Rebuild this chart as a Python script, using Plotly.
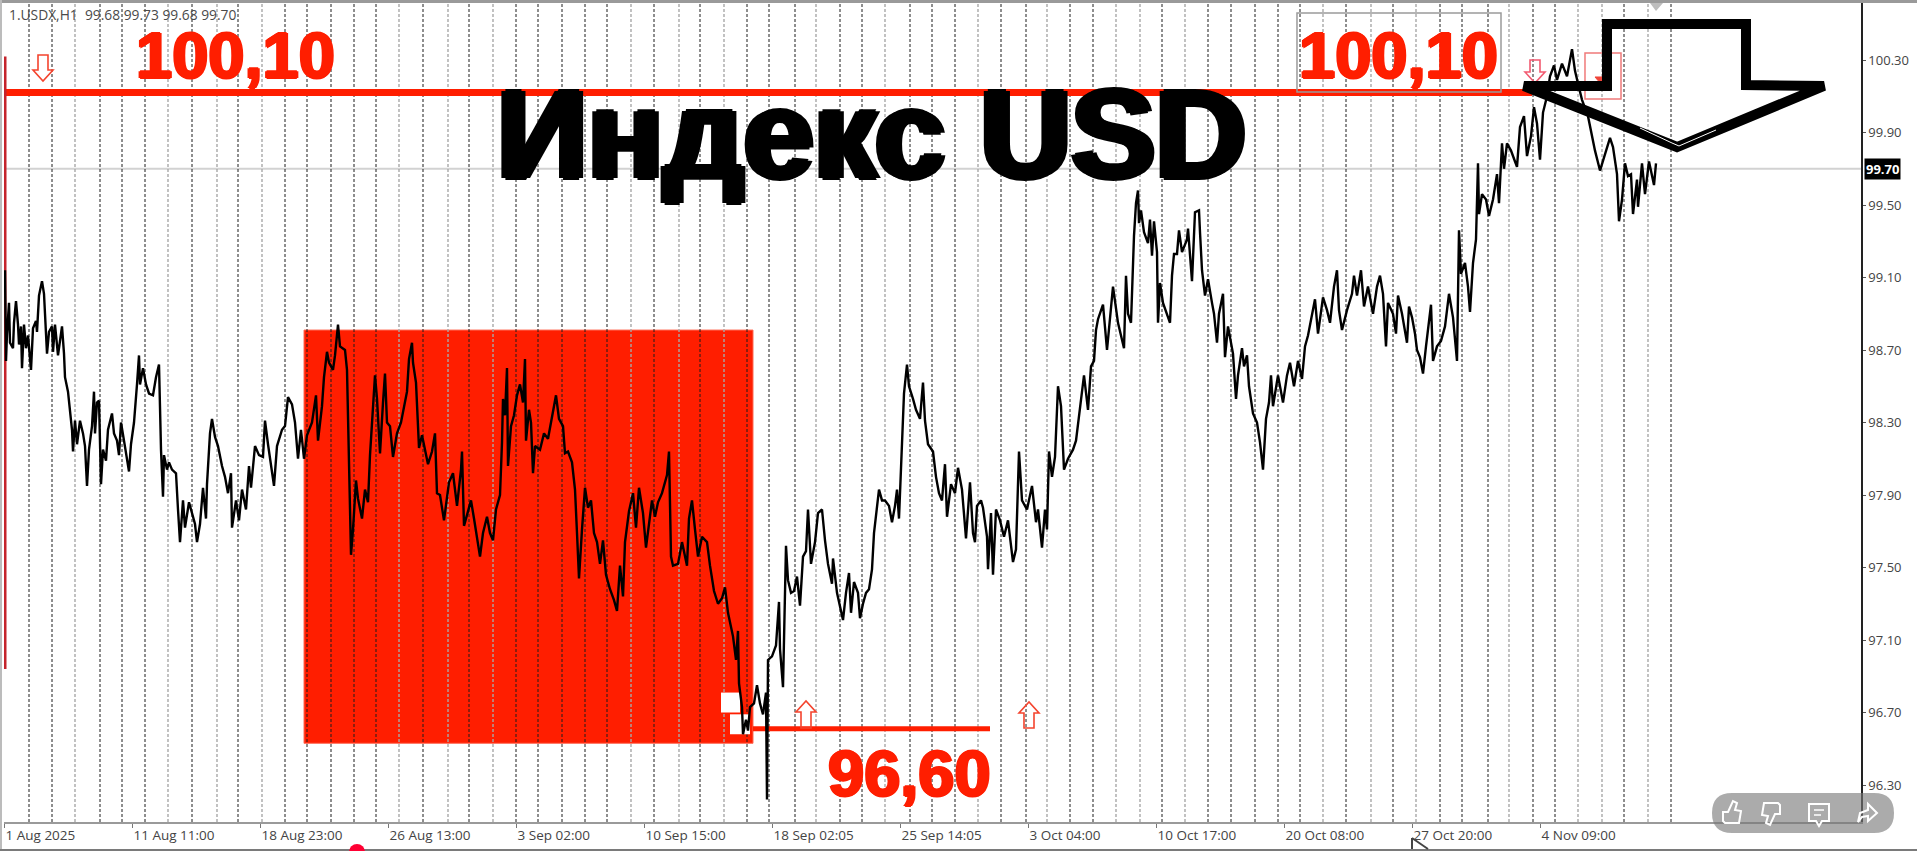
import plotly.graph_objects as go

# ---- chart data (bar number since 1 Aug 2025, H1 bars) ----
bars_aug_a = [1,2,3,5,6,9,10,12,14,15,17,18,20,22,24,27,29,32,33,35,38,40,41,43,45,48,49,51,54,58,60,61,64,66,68,69,71,73,76,79,81,83,85,88,90,91,93,95,97,99,102,104,108,110,113,115,117,120,123,125,127,130,133,135,136,139,142,145,149,152,155,156,157,159,160,163,165,168,172,174,176,179,181,185,189,191,193,196,199,202,203,206,208,211,214,218,221,224,227,228,232,235,238,242,245,247,251,255,259,261,264,266,268,270,273,278,281,284]
close_aug_a = [99.14,98.64,98.79,98.96,98.74,98.71,98.85,98.97,98.84,98.73,98.83,98.60,98.84,98.71,98.78,98.59,98.82,98.86,98.80,99.00,99.08,99.01,98.90,98.68,98.80,98.83,98.69,98.84,98.67,98.83,98.68,98.55,98.47,98.36,98.26,98.14,98.31,98.18,98.31,98.24,98.17,97.95,98.15,98.28,98.47,98.24,98.41,98.42,97.96,98.15,98.09,98.26,98.35,98.24,98.20,98.12,98.30,98.20,98.11,98.03,98.18,98.30,98.51,98.67,98.51,98.60,98.51,98.46,98.45,98.55,98.62,98.35,98.15,97.89,98.12,98.04,98.08,98.04,98.02,97.82,97.64,97.87,97.72,97.86,97.78,97.74,97.64,97.74,97.94,97.77,97.96,98.24,98.32,98.22,98.17,98.06,98.00,97.91,98.02,97.72,97.87,97.76,97.93,97.82,98.06,97.94,98.17,98.12,98.11,98.31,98.18,98.11,98.04,97.95,98.17,98.26,98.28,98.44]

bars_aug_b = [288,291,294,297,300,303,308,312,314,318,320,323,325,329,331,334,336,341,343,345,346,347,349,352,354,358,361,364,366,369,371,373,376,379,381,383,386,389,393,397,401,403,405,408,409,412,414,415,418,421,424,428,431,433,436,440,443,445,449,453,457,458,460,463,467,470,473,476,479,483,486,489,492,496,498,499,501,503,504,507,510,513,516,519,521,522,525,527,529,531,536,540,544,548,552,555,559,561,564,568,571,573,575]
close_aug_b = [98.40,98.30,98.10,98.26,98.10,98.23,98.30,98.45,98.20,98.39,98.55,98.69,98.63,98.59,98.67,98.84,98.72,98.70,98.59,98.13,97.77,97.57,97.71,97.98,97.88,97.77,97.93,97.86,98.12,98.37,98.56,98.43,98.13,98.41,98.57,98.30,98.28,98.11,98.24,98.30,98.41,98.47,98.65,98.74,98.63,98.52,98.28,98.16,98.23,98.15,98.07,98.14,98.24,97.91,97.90,97.76,97.87,97.97,98.02,97.84,98.04,98.14,97.73,97.79,97.87,97.77,97.67,97.56,97.69,97.78,97.69,97.65,97.82,97.90,98.19,98.43,98.34,98.60,98.06,98.28,98.34,98.45,98.51,98.41,98.65,98.20,98.37,98.30,98.02,98.17,98.15,98.24,98.21,98.32,98.45,98.32,98.28,98.13,98.14,98.08,97.93,97.69,97.44]

bars_sep = [578,581,584,587,590,593,596,599,602,606,610,613,616,619,621,625,629,632,635,639,642,645,648,651,654,658,663,665,667,669,674,678,683,685,688,691,694,698,703,706,710,714,718,721,724,729,732,734,735,738,739,742,744,746,750,753,756,759,762,763,764,768,772,775,776,779,782,784,787,790,793,796,799,802,804,807,811,814,818,821,824,828,829,833,839,842,845,847,850,854,856]
close_sep = [97.71,97.94,97.83,97.87,97.69,97.64,97.52,97.65,97.46,97.38,97.32,97.26,97.51,97.34,97.64,97.81,97.91,97.72,97.94,97.80,97.61,97.75,97.87,97.78,97.86,97.91,98.01,98.14,97.56,97.51,97.52,97.64,97.51,97.77,97.87,97.71,97.56,97.67,97.64,97.51,97.37,97.30,97.33,97.39,97.25,97.12,96.99,97.15,96.86,96.73,96.58,96.66,96.60,96.73,96.75,96.85,96.75,96.69,96.81,96.22,96.99,97.01,97.07,97.31,97.05,96.84,97.62,97.43,97.36,97.37,97.45,97.29,97.56,97.59,97.82,97.52,97.64,97.80,97.82,97.65,97.52,97.41,97.55,97.36,97.21,97.36,97.47,97.25,97.42,97.36,97.22]

bars_oct_a = [859,862,865,868,870,873,875,878,881,885,888,891,893,895,898,899,900,903,905,909,912,916,919,921,924,929,932,935,938,941,943,947,951,954,958,962,964,966,969,971,973,977,979,983,984,987,989,992,996,1000,1004,1009,1012,1014,1015,1018,1023,1028,1032,1034,1038,1041,1043,1045,1048,1051,1054,1057,1060,1064,1069,1072,1075,1078,1080,1084,1087,1090,1092,1094,1099,1103,1109,1114,1118]
close_oct_a = [97.30,97.36,97.38,97.49,97.69,97.82,97.93,97.87,97.87,97.84,97.75,97.84,97.93,97.77,98.13,98.28,98.46,98.62,98.50,98.43,98.37,98.32,98.52,98.31,98.18,98.14,98.00,97.91,97.87,98.07,97.78,97.96,97.91,98.05,97.93,97.66,97.84,97.97,97.69,97.64,97.84,97.87,97.83,97.67,97.49,97.80,97.46,97.82,97.76,97.67,97.76,97.53,97.60,97.89,98.14,97.87,97.82,97.95,97.75,97.82,97.61,97.82,97.71,98.14,98.00,98.11,98.50,98.39,98.04,98.10,98.15,98.20,98.33,98.46,98.56,98.37,98.61,98.64,98.81,98.87,98.95,98.70,99.05,98.85,98.76]

bars_oct_b = [1120,1122,1124,1127,1129,1130,1132,1134,1135,1137,1140,1144,1146,1148,1150,1153,1154,1156,1159,1163,1166,1168,1170,1173,1175,1178,1183,1184,1186,1188,1191,1195,1196,1198,1201,1204,1208,1210,1213,1215,1219,1221,1224,1229,1232,1234,1238,1240,1243,1245,1249,1253,1256,1259,1262,1265,1267,1269,1274,1279,1283,1286,1290,1294,1298,1301,1304,1308,1311,1314,1319,1323,1326,1330,1333,1335,1338,1343,1348,1350,1353,1357,1360,1364,1369,1373,1376,1379,1382,1384,1389,1392,1394,1398,1403,1405]
close_oct_b = [98.71,99.11,98.90,98.85,99.15,99.33,99.51,99.58,99.40,99.47,99.35,99.29,99.42,99.22,99.41,99.24,98.85,99.07,98.96,98.90,98.85,99.11,99.23,99.23,99.36,99.24,99.31,99.37,99.24,99.08,99.46,99.47,99.35,99.14,99.00,99.09,98.96,98.90,98.74,98.90,99.01,98.66,98.83,98.68,98.43,98.56,98.71,98.61,98.67,98.50,98.35,98.30,98.19,98.04,98.32,98.41,98.56,98.39,98.56,98.41,98.56,98.63,98.50,98.64,98.54,98.72,98.78,98.90,98.98,98.79,98.99,98.92,98.85,99.05,99.14,98.92,98.81,98.92,99.01,99.11,99.00,99.14,98.94,99.05,98.90,99.05,99.11,99.01,98.72,98.96,98.90,98.79,99.00,98.90,98.74,98.94]

bars_nov = [1408,1411,1413,1416,1419,1422,1427,1429,1433,1437,1441,1445,1449,1453,1455,1457,1461,1464,1466,1469,1472,1474,1475,1478,1482,1485,1489,1493,1495,1498,1500,1503,1507,1511,1513,1516,1520,1523,1527,1530,1533,1536,1539,1543,1546,1550,1553,1558,1563,1568,1571,1574,1578,1584,1588,1591,1596,1601,1606,1609,1613,1615,1618,1621,1624,1627,1629,1633,1634,1638,1641,1645,1648,1650,1652]
close_nov = [98.88,98.79,98.70,98.66,98.57,98.72,98.95,98.64,98.72,98.75,98.83,99.01,98.88,98.64,99.36,99.12,99.18,99.05,98.91,99.18,99.31,99.73,99.45,99.56,99.53,99.44,99.53,99.67,99.51,99.84,99.70,99.84,99.80,99.74,99.71,99.93,99.99,99.77,99.88,100.04,99.95,99.75,100.01,100.10,100.21,100.27,100.19,100.28,100.21,100.36,100.24,100.17,100.08,99.99,99.88,99.80,99.69,99.78,99.87,99.82,99.67,99.41,99.53,99.73,99.66,99.67,99.45,99.64,99.49,99.73,99.56,99.74,99.67,99.61,99.73]

x_tick_bars = [0,128,256,384,512,640,768,896,1024,1152,1280,1408,1536]
x_tick_labels = ["1 Aug 2025","11 Aug 11:00","18 Aug 23:00","26 Aug 13:00","3 Sep 02:00","10 Sep 15:00","18 Sep 02:05","25 Sep 14:05","3 Oct 04:00","10 Oct 17:00","20 Oct 08:00","27 Oct 20:00","4 Nov 09:00"]
y_tick_values = [96.30,96.70,97.10,97.50,97.90,98.30,98.70,99.10,99.50,99.90,100.30]

period_black = [25,48,96,118,141,188,234,281,303,327,350,372,419,465,512,534,558,581,603,650,696,743,765,791,836,858,906,928,951,997,1022,1066,1089,1158,1204,1227,1251,1274,1296,1342,1389,1436,1458,1484,1529,1551,1620,1667]
period_gray = [71,164,213,258,395,444,489,627,675,720,812,881,974,1043,1112,1136,1181,1319,1367,1412,1505,1574,1598,1644]

resistance = 100.12
support = 96.61
last_price = 99.70
box_bars = (300, 749)
box_prices = (96.53, 98.81)
support_end_bar = 986
resistance_end_bar = 1528
left_edge_prices = (96.94, 100.32)
white_boxes = [(717,736,96.70,96.81),(726,746,96.58,96.69)]

bars = bars_aug_a + bars_aug_b + bars_sep + bars_oct_a + bars_oct_b + bars_nov
close = close_aug_a + close_aug_b + close_sep + close_oct_a + close_oct_b + close_nov

# ---- page geometry ----
W, H = 1917, 851
L, R, T, B = 4, 56, 3, 29
PW, PH = W - L - R, H - T - B
RED = "#ff1e00"
Y_RANGE = [100.30 - (822 - 60) / 181.25, 100.30 + 57 / 181.25]

def X(px): return (px - L) / PW
def Y(py): return 1 - (py - T) / PH
def path(pts, close_it=True):
    s = "M" + " L".join(f"{X(a):.5f},{Y(b):.5f}" for a, b in pts)
    return s + (" Z" if close_it else "")

shapes = []
def deco(pts, color, width, fill=None, closed=True, layer="above"):
    shapes.append(dict(type="path", xref="paper", yref="paper", path=path(pts, closed), layer=layer,
                       line=dict(color=color, width=width),
                       fillcolor=fill if fill else "rgba(0,0,0,0)"))

def down_arrow(cx, top, tip, color, bw=5, hw=10, hh=11):
    deco([(cx-bw,top),(cx+bw,top),(cx+bw,tip-hh),(cx+hw,tip-hh),(cx,tip),(cx-hw,tip-hh),(cx-bw,tip-hh)], color, 1.6)
def up_arrow(cx, tip, bottom, color, bw=5, hw=10, hh=11):
    deco([(cx-bw,bottom),(cx+bw,bottom),(cx+bw,tip+hh),(cx+hw,tip+hh),(cx,tip),(cx-hw,tip+hh),(cx-bw,tip+hh)], color, 1.6)

# red box
shapes.append(dict(type="rect", xref="x", yref="y", x0=box_bars[0], x1=box_bars[1], y0=box_prices[0], y1=box_prices[1],
                   fillcolor=RED, line=dict(color="#ff6a55", width=1), layer="below"))
# last price line
shapes.append(dict(type="line", xref="x", yref="y", x0=0, x1=PW, y0=last_price, y1=last_price,
                   line=dict(color="#d2d2d2", width=2), layer="below"))
# period separators
for b in period_gray:
    shapes.append(dict(type="line", xref="x", yref="y", x0=b, x1=b, y0=Y_RANGE[0], y1=Y_RANGE[1], layer="below",
                       line=dict(color="#a8a8a8", width=1.4, dash="3px,2px")))
for b in period_black:
    shapes.append(dict(type="line", xref="x", yref="y", x0=b, x1=b, y0=Y_RANGE[0], y1=Y_RANGE[1], layer="below",
                       line=dict(color="#1c1c1c", width=1, dash="3px,2px")))
# white squares on the box
for a, b, c, d in white_boxes:
    shapes.append(dict(type="rect", xref="x", yref="y", x0=a, x1=b, y0=c, y1=d, fillcolor="#ffffff",
                       line=dict(width=0), layer="below"))
# level lines
shapes.append(dict(type="line", xref="x", yref="y", x0=0, x1=resistance_end_bar, y0=resistance, y1=resistance,
                   line=dict(color=RED, width=7), layer="below"))
shapes.append(dict(type="line", xref="x", yref="y", x0=box_bars[1], x1=support_end_bar, y0=support, y1=support,
                   line=dict(color=RED, width=5), layer="below"))
# left red edge
shapes.append(dict(type="line", xref="x", yref="y", x0=1, x1=1, y0=left_edge_prices[0], y1=left_edge_prices[1],
                   line=dict(color="#c4242c", width=3), layer="below"))
# grey box round right label
deco([(1297,13),(1501,13),(1501,92),(1297,92)], "#9a9a9a", 1.5)
# hollow arrows & markers
down_arrow(43, 55, 81, "#f4442e")
down_arrow(1535, 60, 83, "#f25a70")
deco([(1585,53),(1621,53),(1621,99),(1585,99)], "#f07a7a", 1.5)
deco([(1595,77),(1607,77),(1601,84)], "#f0453a", 1, "#f0453a")
up_arrow(806, 701, 728, "#f4442e")
up_arrow(1029, 702, 728, "#f4442e")
# small chart-shift triangle
deco([(1650,3),(1663,3),(1656,11)], "#bdbdbd", 0, "#bdbdbd")
# big black arrow
big_arrow = [(1524,86),(1607,86),(1607,24),(1746,24),(1746,85),(1824,86),(1677,147)]
deco(big_arrow, "#000000", 10)
deco([(1640,128),(1672,143),(1679,146),(1716,130)], "#ffffff", 1, closed=False)
# window frame
deco([(0,1.5),(W,1.5)], "#9a9a9a", 3, closed=False)
deco([(1,0),(1,H)], "#bcbcbc", 2, closed=False)
deco([(0,850),(W,850)], "#7a7a7a", 2, closed=False)
# mouse pointer and red dot at the bottom
deco([(1412,838),(1412,849)], "#444444", 2, closed=False)
deco([(1412,838),(1428,849)], "#444444", 2, closed=False)
shapes.append(dict(type="circle", xref="paper", yref="paper", x0=X(349), x1=X(365), y0=Y(860), y1=Y(844),
                   fillcolor="#ff0033", line=dict(width=0), layer="above"))
# player pill
shapes.append(dict(type="path", xref="paper", yref="paper", layer="above", fillcolor="rgba(120,120,120,0.62)", line=dict(width=0),
    path=f"M{X(1732):.5f},{Y(793):.5f} L{X(1874):.5f},{Y(793):.5f} Q{X(1894):.5f},{Y(793):.5f} {X(1894):.5f},{Y(813):.5f} "
         f"Q{X(1894):.5f},{Y(833):.5f} {X(1874):.5f},{Y(833):.5f} L{X(1732):.5f},{Y(833):.5f} "
         f"Q{X(1712):.5f},{Y(833):.5f} {X(1712):.5f},{Y(813):.5f} Q{X(1712):.5f},{Y(793):.5f} {X(1732):.5f},{Y(793):.5f} Z"))
# player icons
thumb = [(-8,-1),(-3,-1),(2,-12),(6,-10),(4,-3),(10,-2),(8,10),(-6,10),(-8,8)]
deco([(1731+a,813+b) for a,b in thumb], "#ffffff", 2)
deco([(1772-a,813-b) for a,b in thumb], "#ffffff", 2)
deco([(1809,804),(1829,804),(1829,821),(1822,821),(1819,826),(1816,821),(1809,821)], "#ffffff", 2)
deco([(1814,810),(1824,810)], "#ffffff", 1.5, closed=False)
deco([(1814,815),(1821,815)], "#ffffff", 1.5, closed=False)
deco([(1858,822),(1860,813),(1868,810),(1868,804),(1877,813),(1868,821),(1868,816),(1862,817)], "#ffffff", 2)

def big(text, x, y, size):
    return dict(text=text, xref="paper", yref="paper", x=X(x), y=Y(y), xanchor="center", yanchor="middle", showarrow=False,
                font=dict(family="Liberation Sans", size=size, color=RED, weight=700,
                          shadow=f"1.5px 0 0 {RED}, -1.5px 0 0 {RED}, 0 1px 0 {RED}, 0 -1px 0 {RED}"))

annotations = [
    dict(text="1.USDX,H1  99.68 99.73 99.68 99.70", xref="paper", yref="paper", x=X(7), y=Y(15), xanchor="left", yanchor="middle",
         showarrow=False, font=dict(family="Open Sans", size=13.8, color="#4a4a4a")),
    big("100,10", 235, 55, 65),
    big("100,10", 1398, 55, 65),
    big("96,60", 909, 773, 65),
    dict(text="Индекс USD", xref="paper", yref="paper", x=X(871), y=Y(134), xanchor="center", yanchor="middle", showarrow=False,
         font=dict(family="Liberation Sans", size=126, color="#000000", weight=700,
                   shadow="4px 0 0 #000, -4px 0 0 #000, 0 2px 0 #000, 0 -2px 0 #000")),
    dict(text="<b>99.70</b>", xref="paper", yref="y", x=1, y=last_price, xanchor="left", yanchor="middle", xshift=3, showarrow=False,
         bgcolor="#000000", borderpad=1, font=dict(family="Open Sans", size=13, color="#ffffff")),
]

fig = go.Figure(go.Scatter(x=bars, y=close, mode="lines", line=dict(color="#000000", width=2.4), hoverinfo="skip", showlegend=False))

fig.update_layout(
    width=W, height=H, margin=dict(l=L, r=R, t=T, b=B), autosize=False,
    paper_bgcolor="#ffffff", plot_bgcolor="#ffffff", shapes=shapes, annotations=annotations,
    xaxis=dict(range=[0, PW], tickmode="array", tickvals=x_tick_bars, ticktext=x_tick_labels, ticklabelposition="outside right",
               showgrid=False, zeroline=False, showline=True, linecolor="#9a9a9a", linewidth=2, ticks="outside", ticklen=4,
               tickcolor="#777777", tickfont=dict(family="Open Sans", size=13.5, color="#444444")),
    yaxis=dict(side="right", range=Y_RANGE, tickmode="array", tickvals=y_tick_values,
               ticktext=[f"{v:.2f}" for v in y_tick_values], showgrid=False, zeroline=False, showline=True, linecolor="#222222",
               linewidth=1.5, ticks="outside", ticklen=3, tickcolor="#555555",
               tickfont=dict(family="Open Sans", size=13, color="#444444")),
)
fig.write_html("out.html", config=dict(displayModeBar=False), post_script="document.body.style.margin='0';document.body.style.overflow='hidden';")
